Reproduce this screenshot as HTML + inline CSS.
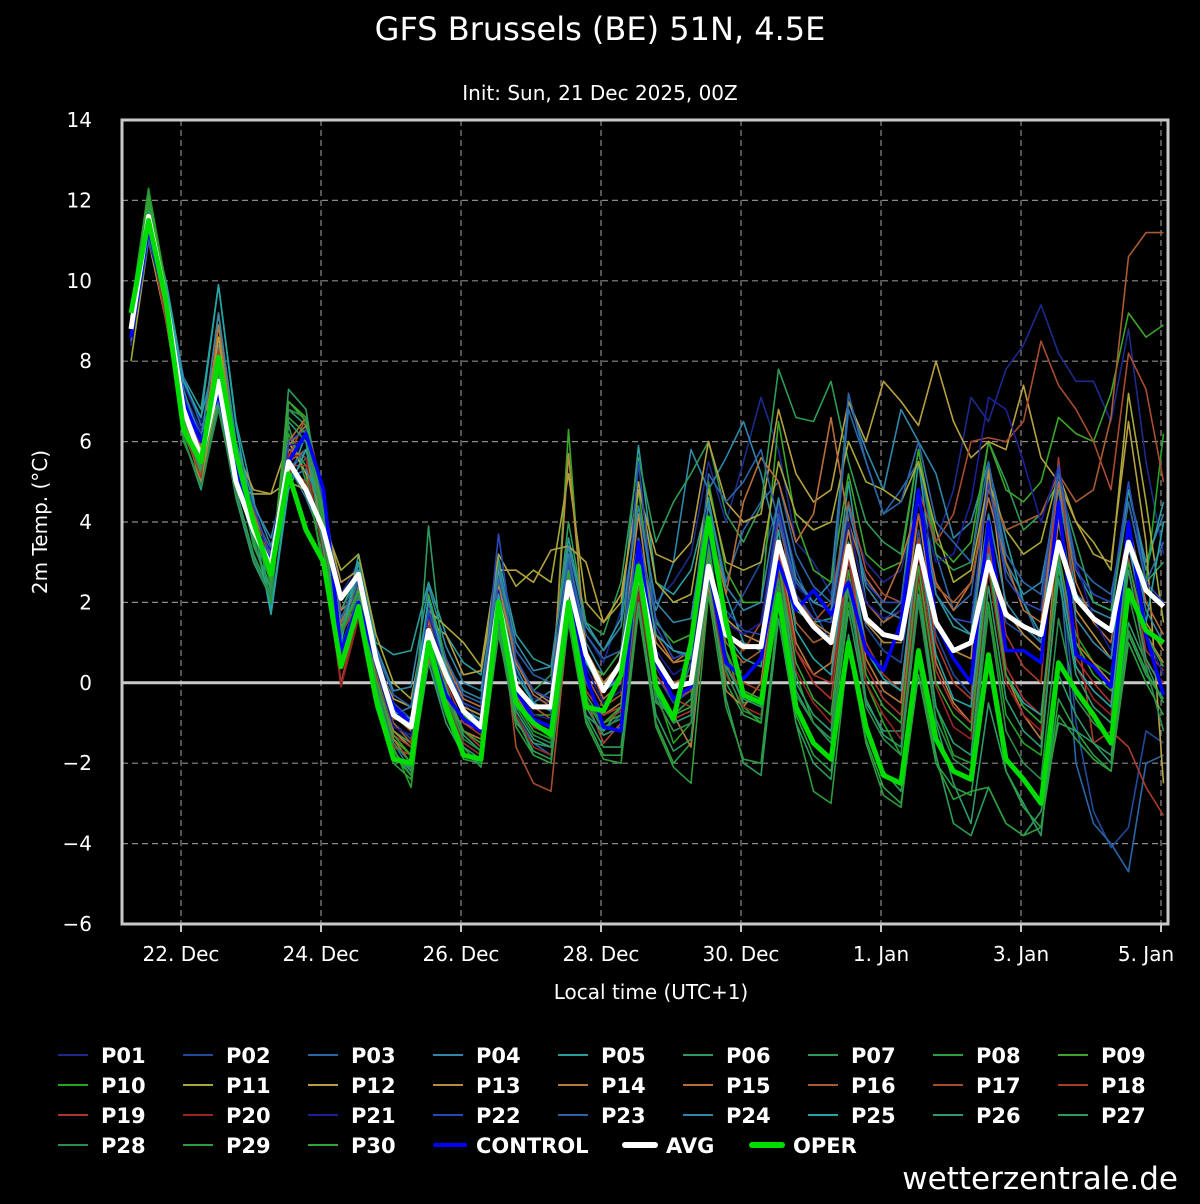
<!DOCTYPE html>
<html><head><meta charset="utf-8">
<style>
html,body{margin:0;padding:0;background:#000;}
body{width:1200px;height:1200px;overflow:hidden;font-family:"DejaVu Sans","Liberation Sans",sans-serif;}
svg text{font-family:"DejaVu Sans","Liberation Sans",sans-serif;fill:#fff;}
</style></head>
<body>
<svg id="chart" width="1200" height="1200" xmlns="http://www.w3.org/2000/svg">
<rect x="0" y="0" width="1200" height="1200" fill="#000"/>
<text x="600" y="40" font-size="32" text-anchor="middle">GFS Brussels (BE) 51N, 4.5E</text>
<text x="600" y="100" font-size="20" text-anchor="middle">Init: Sun, 21 Dec 2025, 00Z</text>
<text transform="translate(47,522) rotate(-90)" font-size="20" text-anchor="middle">2m Temp. (°C)</text>
<text x="651" y="999" font-size="20" text-anchor="middle">Local time (UTC+1)</text>
<text x="1178" y="1189" font-size="31" text-anchor="end">wetterzentrale.de</text>
<g id="grid"></g>
<g id="series"></g>
<rect x="122" y="120" width="1046" height="804" fill="none" stroke="#c8c8c8" stroke-width="3"/>
<g id="axes"></g>
<g id="legend"></g>
</svg>
<script>
const yTicks=[14,12,10,8,6,4,2,0,-2,-4,-6];
const xTickLabels=["22. Dec","24. Dec","26. Dec","28. Dec","30. Dec","1. Jan","3. Jan","5. Jan"];
const xTickSteps=[2.857,10.857,18.857,26.857,34.857,42.857,50.857,58.857];
const avgSeries=[8.8,11.6,9.5,6.8,5.6,7.5,5.0,3.8,2.9,5.5,4.8,3.8,2.1,2.7,0.6,-0.8,-1.1,1.3,0.2,-0.7,-1.1,2.0,-0.1,-0.6,-0.6,2.5,0.7,-0.2,0.5,2.8,0.6,-0.1,0.0,2.9,1.2,0.9,0.9,3.5,2.0,1.4,1.0,3.4,1.6,1.2,1.1,3.4,1.5,0.8,1.0,3.0,1.7,1.4,1.2,3.5,2.1,1.6,1.3,3.5,2.3,1.9];
const operSeries=[9.2,11.5,9.5,6.3,5.5,8.1,5.7,4.0,2.7,5.2,3.8,3.0,0.4,1.9,-0.4,-1.9,-2.0,1.0,-0.6,-1.8,-1.9,2.0,-0.5,-1.0,-1.3,2.0,-0.6,-0.7,0.2,2.9,-0.1,-0.9,1.0,4.1,1.5,-0.3,-0.5,2.2,-0.6,-1.5,-1.9,1.0,-1.1,-2.3,-2.5,0.8,-1.4,-2.2,-2.4,0.7,-1.9,-2.4,-3.0,0.5,-0.2,-0.8,-1.5,2.3,1.3,1.0];
const controlSeries=[8.6,11.3,9.5,7.0,6.0,7.2,5.3,3.8,3.0,5.5,6.2,4.8,0.8,2.0,0.5,-0.6,-1.0,1.0,-0.3,-0.9,-1.2,1.8,-0.2,-0.9,-1.1,2.5,0.2,-1.1,-1.2,3.5,0.5,-0.4,-0.1,2.9,0.5,0.1,0.6,3.0,1.8,2.3,1.7,2.5,0.8,0.3,1.5,4.8,1.5,0.6,0.0,4.0,0.8,0.8,0.5,4.5,0.7,0.4,-0.1,4.0,1.2,-0.3];
const P01=[8.5,11.0,9.2,7.2,6.3,7.4,5.2,4.0,3.1,5.8,6.0,4.5,2.2,3.0,0.8,-0.6,-1.2,1.5,0.2,-0.5,-1.0,2.5,0.3,-0.4,-0.5,3.0,1.2,0.5,1.8,4.2,2.0,2.5,3.2,5.5,4.0,5.5,7.1,5.8,3.5,3.0,2.2,4.2,3.0,2.5,2.8,4.5,3.5,4.8,7.1,6.5,7.8,8.4,9.4,8.2,7.5,7.5,6.5,8.8,5.5,3.2];
const P02=[8.7,11.2,9.6,7.0,5.8,7.0,5.5,3.6,2.6,5.2,5.8,4.2,1.5,2.2,0.4,-1.0,-1.4,0.8,-0.3,-1.2,-1.6,1.5,-0.5,-1.2,-1.4,1.8,0.0,-0.8,-0.5,2.4,0.2,-0.5,-0.2,3.0,1.5,2.2,3.0,4.5,2.8,1.8,1.0,3.0,1.4,0.8,0.5,3.8,1.2,0.2,-0.3,3.5,1.5,1.2,0.8,3.5,-1.0,-3.2,-4.1,-3.6,-1.2,-1.5];
const P03=[8.9,11.4,9.0,6.5,5.2,7.8,5.0,4.2,3.3,5.0,5.6,4.0,1.8,2.6,0.2,-1.5,-2.2,0.5,-0.8,-1.8,-2.0,1.2,-0.8,-1.5,-1.8,1.5,-0.4,-1.2,-0.8,2.2,-0.2,-0.8,0.5,4.5,2.5,3.8,4.5,5.0,3.2,2.4,2.0,6.8,5.5,4.2,4.8,5.5,3.2,1.8,2.2,5.2,2.8,2.0,1.0,3.2,-2.0,-3.5,-4.0,-4.7,-2.0,-1.8];
const P04=[8.6,11.6,9.8,7.4,6.6,8.4,5.6,4.4,3.6,5.4,4.6,3.5,1.2,2.4,0.6,-0.8,-0.6,1.8,0.5,-0.2,-0.4,2.8,0.4,-0.5,-0.2,3.2,1.0,0.2,0.8,3.5,1.8,3.0,5.8,4.8,5.6,6.5,5.2,3.4,2.5,2.0,2.5,7.0,5.8,4.8,6.8,6.0,5.2,3.6,4.0,5.5,3.0,2.2,2.5,4.8,2.2,1.8,1.6,4.8,3.0,4.2];
const P05=[8.4,11.8,10.0,7.6,6.8,9.9,6.5,4.6,1.8,5.0,6.2,4.8,1.0,3.2,1.0,0.7,0.8,2.5,1.2,0.5,0.2,3.1,1.2,0.6,0.4,3.6,1.5,0.8,1.6,5.9,2.5,2.2,2.8,4.6,2.2,1.0,0.8,4.2,1.8,1.5,1.6,5.0,2.0,1.5,2.0,5.5,2.2,1.4,1.2,5.4,3.6,2.0,1.2,5.0,2.8,2.0,1.8,4.8,2.8,4.5];
const P06=[9.2,12.0,9.4,6.4,5.0,7.0,4.8,3.2,2.2,6.8,6.4,3.5,1.4,1.9,-0.4,-1.8,-2.3,0.5,-1.0,-1.8,-1.9,1.4,-1.0,-1.5,-1.6,1.8,-0.8,-1.2,-0.6,2.5,-0.5,-0.8,-0.4,3.5,0.5,-0.5,-0.4,2.8,-0.2,-1.0,-1.5,1.8,-0.5,-1.2,-1.2,2.2,-1.0,-2.5,-3.5,-0.5,-2.2,-3.0,-3.8,0.2,-0.8,-1.5,-2.0,1.5,0.5,-0.5];
const P07=[8.8,11.5,9.2,6.8,5.5,7.6,5.2,4.0,3.0,6.4,5.0,3.0,1.8,2.8,0.3,-1.2,-1.5,1.6,0.4,-0.6,-0.8,3.0,0.5,-0.2,0.2,4.0,1.5,1.2,2.5,5.6,3.5,4.5,5.2,6.0,4.2,3.5,4.4,7.8,6.6,6.5,7.5,5.5,4.0,3.5,3.2,5.8,3.2,2.8,3.0,6.0,5.0,3.8,4.2,5.0,3.5,2.0,1.8,4.5,2.5,3.0];
const P08=[9.0,11.9,9.6,6.2,5.2,7.8,5.5,3.4,2.4,6.0,5.4,3.2,0.6,1.6,-0.6,-2.0,-2.4,0.8,-0.6,-1.6,-2.1,1.2,-0.8,-1.8,-2.0,1.6,-0.9,-1.8,-1.8,1.8,-1.0,-2.0,-1.5,2.5,0.0,-0.8,-1.0,2.4,-0.8,-1.8,-2.2,0.8,-1.4,-2.6,-3.0,0.2,-2.0,-2.6,-2.8,0.4,-2.2,-3.1,-3.6,-0.4,-1.2,-1.8,-2.2,1.0,0.0,-0.8];
const P09=[9.1,12.1,9.8,6.6,5.6,8.0,5.6,3.8,2.8,7.0,6.6,4.4,1.6,2.5,0.0,-1.4,-1.8,2.2,0.6,-0.8,-1.2,2.6,0.0,-0.8,-0.8,6.3,0.5,0.2,0.8,4.8,1.5,1.0,1.2,5.0,2.8,2.0,2.0,6.5,4.0,2.8,2.5,5.2,3.2,2.8,3.0,5.8,3.5,3.0,3.5,6.0,4.8,4.5,5.0,6.6,6.2,6.0,7.2,9.2,8.6,8.9];
const P10=[9.3,12.3,9.9,6.0,5.0,7.2,5.4,3.6,2.0,6.2,5.2,2.8,0.6,2.0,-0.2,-1.6,-2.6,1.0,-0.4,-1.5,-1.8,1.6,-0.5,-1.2,-1.4,2.2,-0.5,-1.0,-0.8,2.8,-0.2,-1.5,-1.0,3.2,0.8,-0.6,-1.0,3.0,0.2,-1.0,-1.4,2.0,0.0,-1.0,-1.8,2.5,-0.6,-1.8,-2.0,2.0,-0.8,-1.5,-1.8,2.8,1.2,0.5,0.2,3.5,2.5,6.2];
const P11=[8.0,11.0,9.0,6.6,5.3,7.2,4.8,4.7,4.7,5.0,4.8,4.0,2.8,3.2,1.2,0.0,-0.4,1.8,1.4,1.0,0.4,3.2,2.4,2.8,2.5,5.2,2.0,1.5,2.0,5.0,2.5,2.0,2.2,4.8,3.0,2.8,3.0,5.5,4.2,3.8,4.0,6.0,5.0,4.8,4.5,5.5,3.8,2.5,2.8,5.0,3.8,3.2,3.5,5.2,4.0,3.5,2.8,7.2,4.5,1.5];
const P12=[8.5,11.2,9.4,6.8,5.8,8.6,5.8,4.8,4.7,6.0,5.2,4.2,2.5,2.8,0.5,-0.4,-0.6,1.5,1.2,0.2,0.3,2.8,2.8,2.5,3.3,3.4,3.0,1.5,2.2,4.8,3.2,3.0,3.5,6.0,4.5,4.0,4.2,6.8,5.2,4.5,4.8,7.0,6.0,7.5,7.0,6.4,8.0,6.5,5.6,6.0,5.8,7.4,5.6,5.0,4.0,3.2,3.0,6.5,3.5,-2.5];
const P13=[8.8,11.8,9.0,6.4,5.0,7.4,5.0,3.8,2.8,5.8,5.6,3.8,1.4,2.2,0.0,-1.2,-1.6,1.2,0.2,-0.6,-0.8,2.4,0.6,-0.2,-0.5,5.7,0.8,0.0,0.5,4.2,1.0,0.5,0.6,3.8,1.6,1.2,1.0,4.4,2.2,1.5,1.2,3.8,1.5,1.0,1.0,4.2,1.4,0.8,0.6,5.3,1.8,1.2,0.8,4.0,1.8,1.2,0.6,3.5,1.5,0.8];
const P14=[9.0,11.4,9.5,6.5,5.4,8.9,5.6,3.9,2.5,5.9,6.4,4.5,1.8,2.2,0.2,-1.4,-2.0,0.6,-0.4,-1.2,-1.4,2.2,-0.3,-1.0,-1.2,2.6,-0.2,-0.8,-0.5,2.8,0.0,-0.8,-1.6,2.4,-0.2,-0.6,0.0,3.4,1.0,0.2,0.5,3.2,0.6,-0.2,-0.5,3.6,0.5,-0.5,-1.0,3.8,0.2,-0.8,-1.4,4.2,1.0,0.5,0.0,3.0,1.2,0.5];
const P15=[8.6,11.6,9.2,7.0,5.9,9.2,5.9,4.2,3.0,6.0,6.6,4.0,1.5,2.4,0.5,-0.8,-1.2,2.0,0.5,-0.4,-0.6,2.6,0.5,-0.3,-0.6,3.0,0.6,-0.4,0.0,3.5,1.2,0.5,0.8,4.0,2.2,4.5,5.6,5.0,3.5,4.2,6.6,4.0,2.6,2.0,3.0,4.5,2.5,1.8,2.5,4.6,3.0,1.8,1.5,5.0,2.5,1.5,1.0,4.0,2.0,1.2];
const P16=[8.9,11.3,9.6,6.7,5.6,8.0,5.4,4.0,2.9,5.5,5.8,4.6,0.8,2.0,-0.2,-1.0,-1.5,1.4,0.0,-1.0,-1.2,2.0,0.0,-0.6,-0.9,2.4,0.2,-0.6,-0.3,3.0,0.6,0.0,0.2,3.2,1.0,0.5,0.8,3.5,1.5,1.0,1.2,4.0,2.0,1.5,1.8,4.2,2.4,2.0,2.5,4.8,3.8,4.0,4.2,5.2,4.5,4.8,6.6,10.6,11.2,11.2];
const P17=[8.7,11.1,9.3,6.9,5.7,8.3,5.7,4.3,3.2,5.6,6.6,4.6,0.6,2.3,0.4,-0.9,-1.0,1.6,-0.2,-1.2,-1.5,2.2,-1.6,-2.5,-2.7,1.6,-0.4,-1.5,-1.0,2.4,0.4,-0.4,-0.2,3.0,1.2,0.8,1.5,4.0,2.2,1.5,2.0,4.5,2.8,2.2,2.0,4.8,3.5,4.2,6.0,6.1,6.0,6.5,8.5,7.4,6.8,6.0,4.8,8.2,7.3,5.0];
const P18=[8.9,11.7,9.7,6.3,5.1,8.2,5.8,4.1,2.7,5.3,5.0,3.6,0.0,1.8,-0.3,-1.6,-1.8,1.2,-0.2,-1.2,-1.6,1.8,-0.4,-1.0,-1.2,2.2,-0.2,-0.8,-0.6,2.6,0.2,-0.4,-0.6,2.8,0.5,0.0,-0.2,3.0,0.8,0.2,0.0,3.2,1.0,0.2,-0.2,3.6,1.0,0.0,-0.4,4.0,1.2,0.4,0.0,5.6,1.5,-1.5,-1.2,-1.6,-2.6,-3.3];
const P19=[8.7,11.2,9.0,6.6,5.5,7.5,5.0,3.7,2.9,5.4,5.4,3.4,1.2,2.0,0.2,-1.3,-1.6,1.4,0.0,-1.0,-1.3,1.9,-0.4,-1.1,-1.3,2.3,-0.3,-1.0,-0.7,2.6,-0.1,-0.9,-0.7,2.9,0.4,-0.2,-0.4,3.2,0.8,0.0,-0.4,3.1,0.4,-0.4,-0.8,3.2,0.3,-0.6,-1.0,3.4,0.4,-0.4,-0.8,3.3,0.6,0.0,-0.5,3.1,0.8,0.3];
const P20=[8.8,11.4,9.2,6.9,5.7,7.9,5.3,4.1,3.0,5.7,5.6,3.2,-0.1,1.6,-0.5,-1.8,-2.1,0.9,-0.5,-1.5,-1.8,1.5,-0.8,-1.6,-1.8,1.9,-0.6,-1.3,-1.1,2.2,-0.4,-1.2,-1.0,2.6,0.2,-0.6,-0.8,2.8,0.3,-0.5,-1.0,2.6,0.0,-0.8,-1.4,2.7,-0.1,-1.1,-1.4,2.8,0.0,-0.8,-1.2,3.1,0.4,-0.4,-0.8,2.8,0.5,0.0];
const P21=[8.4,11.0,9.4,7.4,6.5,7.2,5.0,3.9,3.3,5.9,6.0,4.9,0.7,2.2,0.4,-1.1,-1.3,1.7,0.3,-0.7,-1.1,2.3,0.0,-0.8,-0.9,2.8,0.4,-0.5,-0.2,3.2,0.8,0.2,0.5,3.6,1.5,1.2,1.5,4.4,2.4,2.0,1.8,4.0,2.0,1.6,1.8,4.6,3.0,3.2,4.5,7.1,6.8,5.5,4.0,5.4,3.0,1.6,0.8,3.4,1.2,0.2];
const P22=[8.6,11.3,9.5,7.1,6.2,7.6,5.5,4.4,3.1,6.0,6.3,4.5,1.1,2.5,0.6,-0.5,-0.9,1.8,0.4,-0.5,-0.7,3.7,0.6,-0.2,-0.4,3.0,0.8,-0.2,0.2,5.5,1.4,0.6,0.8,3.8,1.8,1.3,1.2,4.2,2.2,1.6,1.5,4.4,2.5,2.0,2.0,4.8,2.2,1.6,1.5,5.0,2.6,2.0,1.8,5.4,2.8,2.2,2.0,5.0,2.5,2.0];
const P23=[8.5,11.0,9.8,7.6,6.4,7.0,4.9,3.7,3.2,5.3,5.8,4.8,1.6,2.6,0.8,-0.3,-0.6,2.0,0.6,-0.3,-0.5,2.6,0.8,0.2,0.0,3.1,1.2,0.6,0.8,3.6,1.6,0.8,0.6,5.2,4.5,5.0,5.8,4.0,2.5,2.0,1.8,7.2,5.5,4.2,4.5,6.0,4.0,3.5,3.0,5.5,3.2,2.5,2.2,5.2,3.0,2.5,2.2,4.5,2.5,3.5];
const P24=[8.7,11.5,9.7,7.3,6.0,9.2,6.0,4.5,3.4,5.1,5.3,4.3,1.3,2.8,0.9,-0.2,-0.1,2.4,0.9,0.0,-0.2,2.9,1.0,0.3,0.4,3.4,1.4,0.8,1.4,4.4,2.0,1.5,1.6,4.4,2.4,1.8,2.0,4.6,2.6,2.0,1.8,4.4,2.4,1.8,1.6,4.6,2.2,1.6,1.2,4.2,2.0,1.4,1.0,4.4,1.6,1.0,0.6,4.0,1.8,1.0];
const P25=[8.8,11.6,9.9,7.5,6.6,9.9,6.4,4.0,1.7,4.8,5.8,4.0,1.0,3.0,0.6,-0.7,-0.9,2.1,0.4,-0.7,-0.9,2.2,0.2,-0.5,-0.7,2.8,0.5,-0.2,0.1,3.4,1.2,0.8,0.7,4.0,1.2,0.6,0.4,3.8,1.3,0.6,0.2,3.5,0.8,0.1,-0.2,3.4,0.7,-0.4,-0.6,3.2,0.2,-0.5,-0.8,3.0,0.4,-0.2,-0.6,3.4,1.5,4.0];
const P26=[9.1,11.9,9.3,6.1,4.8,6.9,4.6,3.0,2.1,6.5,6.0,3.3,0.9,2.1,-0.1,-1.7,-2.2,1.1,-0.5,-1.6,-1.9,1.6,-0.7,-1.4,-1.6,2.0,-0.6,-1.3,-1.1,2.6,-0.3,-1.0,-0.8,3.1,0.4,-0.4,-0.6,3.0,0.0,-0.8,-1.2,2.5,-0.4,-1.3,-1.6,2.2,-0.6,-1.5,-1.8,2.4,-0.4,-1.2,-1.6,2.6,0.2,-0.6,-1.0,2.8,0.6,-0.2];
const P27=[9.0,11.8,9.5,6.3,5.3,7.3,5.1,3.5,2.3,7.3,6.8,4.0,0.8,1.8,-0.6,-1.9,-2.1,3.9,-0.1,-1.3,-1.7,1.4,-0.9,-1.7,-1.9,1.7,-0.8,-1.6,-1.6,2.0,-0.8,-1.7,-1.4,2.6,-0.4,-2.0,-2.3,1.6,-1.0,-2.0,-2.4,1.2,-1.2,-2.2,-2.7,0.6,-1.8,-3.5,-3.8,-2.6,-3.5,-3.8,-3.2,-1.0,-1.2,-1.5,-1.8,1.2,0.2,-0.4];
const P28=[9.2,12.2,9.6,6.1,4.9,6.8,4.7,3.1,2.1,6.8,6.6,3.6,1.2,2.2,0.0,-1.5,-2.0,1.2,-0.3,-1.4,-1.7,1.8,-0.6,-1.3,-1.5,2.1,-0.5,-1.1,-0.9,2.6,-0.4,-1.2,-1.0,3.0,0.3,-0.7,-0.9,2.6,-0.3,-1.0,-1.4,2.3,-0.6,-1.4,-1.8,2.0,-0.9,-1.9,-2.2,1.8,-1.2,-2.0,-2.4,1.6,-0.4,-1.0,-1.4,2.2,0.4,-1.2];
const P29=[9.1,12.0,9.7,6.4,5.4,7.7,5.3,3.7,2.5,6.6,6.2,3.9,0.5,1.7,-0.5,-1.7,-2.3,0.7,-0.8,-1.9,-2.0,1.3,-1.1,-1.8,-2.0,1.5,-1.0,-1.9,-2.0,1.8,-1.1,-2.1,-2.5,2.2,-0.6,-1.9,-2.0,1.9,-1.0,-2.7,-3.0,0.9,-1.5,-2.8,-3.1,0.5,-2.0,-2.9,-2.7,-2.6,-3.5,-3.8,-3.6,-0.8,-1.4,-1.9,-2.2,1.3,0.3,-0.5];
const P30=[9.2,12.1,9.8,6.5,5.7,7.9,5.5,3.9,2.6,7.0,6.5,4.2,1.3,2.3,0.1,-1.3,-1.8,1.3,-0.2,-1.2,-1.5,2.0,-0.4,-1.0,-1.2,2.8,-0.3,-1.0,-0.6,2.8,0.0,-0.8,-0.6,3.3,0.8,-0.2,-0.4,3.0,0.5,-0.4,-0.8,2.8,0.2,-0.6,-1.0,2.9,0.0,-0.8,-1.2,3.0,0.2,-0.6,-1.0,3.2,1.0,0.2,-0.2,3.0,1.2,0.4];
const memberSeries=[P01,P02,P03,P04,P05,P06,P07,P08,P09,P10,P11,P12,P13,P14,P15,P16,P17,P18,P19,P20,P21,P22,P23,P24,P25,P26,P27,P28,P29,P30];
const memberColors=["#1c2a8c","#1f4a9a","#2a66a6","#2f86a8","#2a9c9c","#2e9a66","#2e9a55","#2aa040","#3aa528","#22a522","#a8a838","#b8a040","#b88c3c","#b87a3a","#b86e38","#a85c30","#a84c30","#a83c28","#a83434","#982424","#1e1e9a","#2848b8","#2c64a8","#3286a8","#24a4a4","#2c9c70","#2c9c5c","#2c8c4c","#2c9c3c","#32a432"];

const NS="http://www.w3.org/2000/svg";
const X0=131, DX=17.5, Y0=120, YTOP=14, PPU=40.2;
function xs(i){return X0+i*DX;}
function ys(v){return Y0+(YTOP-v)*PPU;}
function mk(tag,attrs,parent){const e=document.createElementNS(NS,tag);for(const k in attrs)e.setAttribute(k,attrs[k]);parent.appendChild(e);return e;}
const grid=document.getElementById('grid'),series=document.getElementById('series'),axes=document.getElementById('axes'),legend=document.getElementById('legend');

yTicks.forEach(v=>{
  if(v!==14&&v!==-6&&v!==0){
    const l=mk('line',{x1:122,x2:1168,y1:ys(v),y2:ys(v),stroke:'#8a8a8a','stroke-width':1.2,'stroke-dasharray':'6,4'},grid);
    
    
  }
  const t=mk('text',{x:92,y:ys(v)+7,'font-size':20,'text-anchor':'end'},axes);
  t.textContent=(v<0?'\u2212'+Math.abs(v):String(v));
  
  
});
xTickSteps.forEach((s,i)=>{
  const x=xs(s);
  if(x<1166){
    const l=mk('line',{x1:x,x2:x,y1:120,y2:924,stroke:'#8a8a8a','stroke-width':1.2,'stroke-dasharray':'6,4'},grid);
    
    
  }
  const tk=mk('line',{x1:x,x2:x,y1:924,y2:932,stroke:'#c8c8c8','stroke-width':2},axes);
  
  
  const lx=Math.min(x,1146);
  const t=mk('text',{x:lx,y:961,'font-size':20,'text-anchor':'middle'},axes);
  t.textContent=xTickLabels[i];
  
  
});
const zl=mk('line',{x1:122,x2:1168,y1:ys(0),y2:ys(0),stroke:'#c8c8c8','stroke-width':3},grid);



function path(arr){return arr.map((v,i)=>(i?'L':'M')+xs(i).toFixed(1)+','+ys(v).toFixed(1)).join(' ');}
memberSeries.forEach((arr,k)=>{
  const p=mk('path',{d:path(arr),fill:'none',stroke:memberColors[k],'stroke-width':1.6,'stroke-linejoin':'round'},series);
  
  
});
const pc=mk('path',{d:path(controlSeries),fill:'none',stroke:'#0000ff','stroke-width':3.5,'stroke-linejoin':'round'},series);


const pa=mk('path',{d:path(avgSeries),fill:'none',stroke:'#ffffff','stroke-width':5,'stroke-linejoin':'round'},series);


const po=mk('path',{d:path(operSeries),fill:'none',stroke:'#00dd00','stroke-width':5,'stroke-linejoin':'round'},series);



const labels=[];for(let i=1;i<=30;i++)labels.push('P'+String(i).padStart(2,'0'));
labels.forEach((lab,i)=>{
  const r=Math.floor(i/9),c=i%9;
  const x=58+c*125,y=1055+r*30;
  const g=mk('g',{},legend);
  
  
  mk('line',{x1:x,x2:x+30,y1:y,y2:y,stroke:memberColors[i],'stroke-width':2},g);
  const t=mk('text',{x:x+43,y:y+8,'font-size':21,'font-weight':'bold'},g);
  t.textContent=lab;
});
[['CONTROL','#0000ff',435,4,'legend-entry-control'],['AVG','#ffffff',625,6,'legend-entry-avg'],['OPER','#00dd00',752,6,'legend-entry-oper']].forEach(e=>{
  const y=1145;
  const g=mk('g',{},legend);
  
  
  mk('line',{x1:e[2],x2:e[2]+30,y1:y,y2:y,stroke:e[1],'stroke-width':e[3],'stroke-linecap':'round'},g);
  const t=mk('text',{x:e[2]+41,y:y+8,'font-size':21,'font-weight':'bold'},g);
  t.textContent=e[0];
});
</script>
</body></html>
